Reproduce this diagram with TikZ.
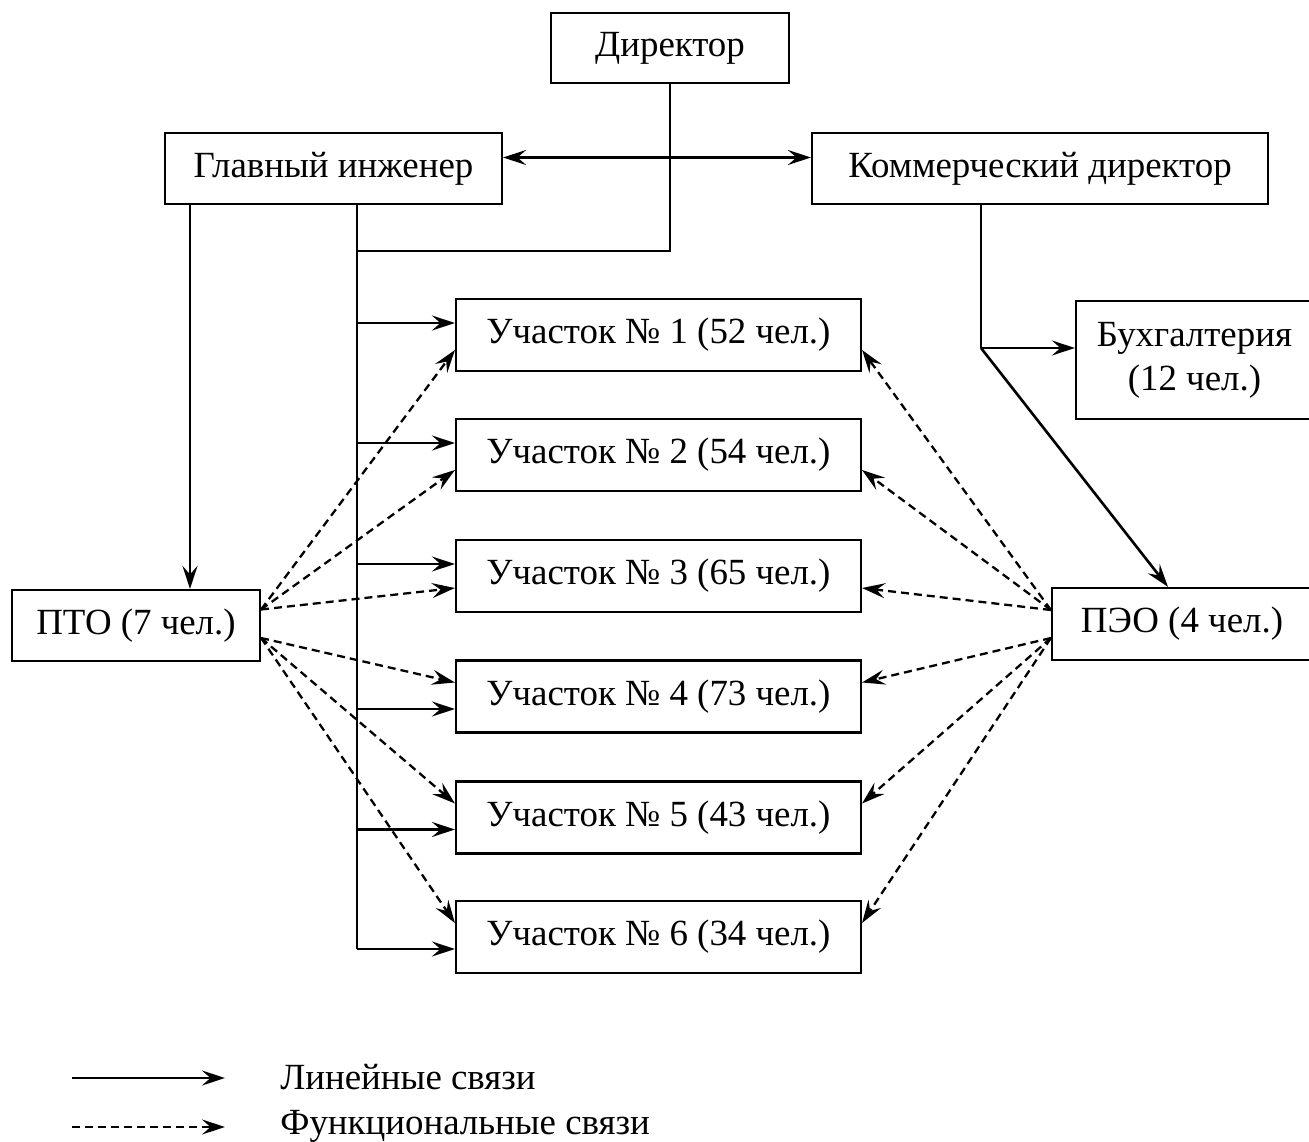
\documentclass[tikz,border=0pt]{standalone}
\usepackage{fontspec}
\setmainfont{Liberation Serif}
\usetikzlibrary{arrows.meta,calc}
\begin{document}
\begin{tikzpicture}[x=0.02cm,y=-0.02cm,
  every node/.style={font=\fontsize{21}{25}\selectfont},
  tip/.tip={Stealth[length=4.6mm,width=3mm,inset=1.7mm]},
  box/.style={draw, line width=1.25pt, inner sep=0pt, minimum height=1.44cm, align=center},
  lin/.style={line width=1.5pt},
  arr/.style={line width=1.5pt, -tip},
  arrb/.style={line width=1.5pt, tip-tip},
  darr/.style={line width=1.3pt, dash pattern=on 0.16cm off 0.1cm, -tip}
]
\useasboundingbox (0,0) rectangle (1309,1142);
% boxes
\node[box, minimum width=4.76cm, minimum height=1.4cm] (dir) at (670,48) {Директор};
\node[box, minimum width=6.74cm, minimum height=1.42cm] (gi) at (333.5,168.5) {Главный инженер};
\node[box, minimum width=9.12cm, minimum height=1.42cm] (kd) at (1040,168.5) {Коммерческий директор};
\node[box, minimum width=8.1cm] (u1) at (658.5,335) {Участок № 1 (52 чел.)};
\node[box, minimum width=8.1cm] (u2) at (658.5,455) {Участок № 2 (54 чел.)};
\node[box, minimum width=8.1cm] (u3) at (658.5,576) {Участок № 3 (65 чел.)};
\node[box, minimum width=8.1cm] (u4) at (658.5,696.5) {Участок № 4 (73 чел.)};
\node[box, minimum width=8.1cm] (u5) at (658.5,817.5) {Участок № 5 (43 чел.)};
\node[box, minimum width=8.1cm] (u6) at (658.5,937) {Участок № 6 (34 чел.)};
\node[box, minimum width=4.96cm, minimum height=1.42cm] (pto) at (136,625.5) {ПТО (7 чел.)};
\node[box, minimum width=5.2cm, minimum height=1.44cm] (peo) at (1182,624) {ПЭО (4 чел.)};
\node[box, minimum width=4.74cm, minimum height=2.36cm] (buh) at (1194.5,360) {Бухгалтерия\\(12 чел.)};

% linear links
\coordinate (trunk) at (357,949);
\coordinate (j) at (357,251);
\draw[lin] (dir.south) |- (j);
\draw[lin] (gi.south -| trunk) -- (trunk);
\coordinate (dd) at ($(gi.east)+(0,-11)$);
\draw[arrb] (dd) -- (kd.west |- dd);
\coordinate (a1) at ($(u1.west)+(0,-12)$);
\coordinate (a2) at ($(u2.west)+(0,-12)$);
\coordinate (a3) at ($(u3.west)+(0,-12)$);
\coordinate (a4) at ($(u4.west)+(0,12.5)$);
\coordinate (a5) at ($(u5.west)+(0,12)$);
\coordinate (a6) at ($(u6.west)+(0,12)$);
\foreach \i in {1,...,6} {\draw[arr] (trunk |- a\i) -- (a\i);}
\coordinate (pt) at (190,0);
\draw[arr] (gi.south -| pt) -- (pto.north -| pt);
\coordinate (k) at (981,348);
\draw[lin] (kd.south -| k) -- (k);
\draw[arr] (k) -- (buh.west |- k);
\coordinate (pk) at (1168,0);
\draw[arr] (k) -- (peo.north -| pk);

% functional links
\coordinate (pu) at ($(pto.east)+(0,-16)$);
\coordinate (pl) at ($(pto.east)+(0,12.5)$);
\coordinate (eu) at ($(peo.west)+(0,-14)$);
\coordinate (el) at ($(peo.west)+(0,14)$);
\coordinate (d1) at ($(u1.west)+(0,15)$);
\coordinate (d2) at ($(u2.west)+(0,15)$);
\coordinate (d3) at ($(u3.west)+(0,12)$);
\coordinate (d4) at ($(u4.west)+(0,-14)$);
\coordinate (d5) at ($(u5.west)+(0,-14)$);
\coordinate (d6) at ($(u6.west)+(0,-14)$);
\coordinate (f1) at ($(u1.east)+(0,15)$);
\coordinate (f2) at ($(u2.east)+(0,15)$);
\coordinate (f3) at ($(u3.east)+(0,12)$);
\coordinate (f4) at ($(u4.east)+(0,-14)$);
\coordinate (f5) at ($(u5.east)+(0,-14)$);
\coordinate (f6) at ($(u6.east)+(0,-14)$);
\foreach \i in {1,2,3} {\draw[darr] (pu) -- (d\i); \draw[darr] (eu) -- (f\i);}
\foreach \i in {4,5,6} {\draw[darr] (pl) -- (d\i); \draw[darr] (el) -- (f\i);}

% legend
\coordinate (l1a) at (72,1078);
\coordinate (l1b) at (225,1078);
\coordinate (l2a) at (72,1127);
\coordinate (l2b) at (225,1127);
\draw[arr] (l1a) -- (l1b);
\draw[darr] (l2a) -- (l2b);
\node[anchor=west, inner sep=0pt] (t1) at (280,1077) {Линейные связи};
\node[anchor=west, inner sep=0pt] (t2) at (280,1126) {Функциональные связи};
\end{tikzpicture}
\end{document}
